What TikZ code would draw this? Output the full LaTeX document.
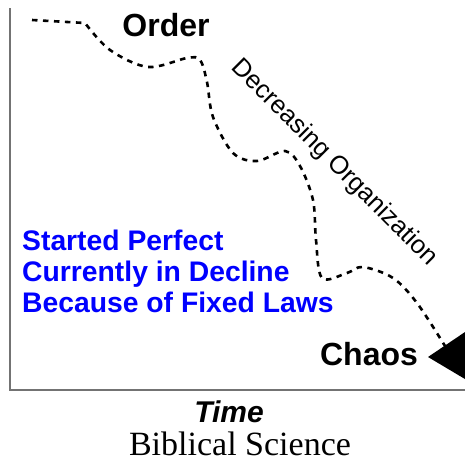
\documentclass[tikz,border=0pt]{standalone}
\usepackage{fontspec}
\setmainfont{Liberation Sans}
\newfontfamily\bibserif{Liberation Serif}
\usetikzlibrary{calc}

\begin{document}
\begin{tikzpicture}[x=1pt,y=-1pt,
  axis/.style={draw=black!55,line width=1.2pt},
  decay/.style={line width=2.6pt,dash pattern=on 5.5pt off 5.5pt},
  bigword/.style={font=\fontsize{32}{38}\selectfont\bfseries,anchor=base,inner sep=0pt},
  claim/.style={font=\fontsize{28.3}{31}\selectfont\bfseries,text=blue,anchor=base west,inner sep=0pt}
]
  \useasboundingbox (0,0) rectangle (465,461);

  \coordinate (top) at (10,8);
  \coordinate (origin) at (10,390);
  \coordinate (right) at (466,390);
  \draw[axis] (top) -- (origin) -- (right);

  \coordinate (start) at (32,20);
  \coordinate (tail) at (445,346);
  \coordinate (tip) at (428,357);
  \draw[decay] (start) -- (85,23) -- plot[smooth,tension=0.55] coordinates {%
    (85,23) (110,50) (148,67) (187,58) (200,60) (207,82) (213,117)
    (233,153) (257,161) (285,151) (300,166) (313,200) (316,240)
    (322,278) (347,273) (363,267) (393,278) (417,303) (445,346)};
  \fill (tip) -- ++(40,-27) -- ++(2,52) -- cycle;

  \node[bigword] (order) at (166,36) {Order};
  \node[bigword] (chaos) at (369,365) {Chaos};
  \node[font=\fontsize{25.5}{30}\selectfont,rotate=-45] (decline) at (334,163) {Decreasing Organization};

  \node[claim] (perfect) at (22,250) {Started Perfect};
  \node[claim] (current) at (22,281) {Currently in Decline};
  \node[claim] (laws) at (22,312) {Because of Fixed Laws};

  \node[font=\fontsize{30}{36}\selectfont\bfseries\itshape,anchor=base,inner sep=0pt] (time) at (229,422) {Time};
  \node[font=\fontsize{34}{40}\selectfont\bibserif,anchor=base,inner sep=0pt] (caption) at (240,455) {Biblical Science};
\end{tikzpicture}
\end{document}
